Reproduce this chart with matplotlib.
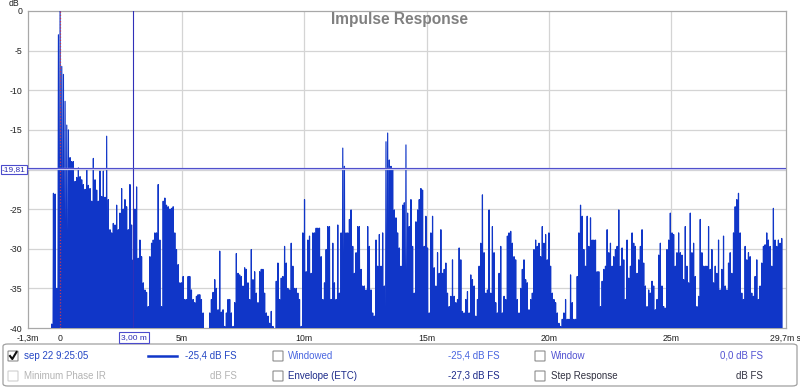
import numpy as np
import matplotlib
matplotlib.use('Agg')
import matplotlib.pyplot as plt
from matplotlib.patches import FancyBboxPatch
from matplotlib.lines import Line2D

plt.rcParams['font.family'] = ['Liberation Sans', 'DejaVu Sans']

# ---------------- data ----------------
start_ms = -0.327      # time of first sample (ms)
step_ms = 0.068        # spacing of level readings (ms)
floor_db = -60.0       # level of zero crossings

level_early = [
    -39.5, -23.0, -23.1, -35.0, -3.0, 0.0, -7.0, -8.0, -11.4, -14.4,
    -15.0, -18.5, -19.0, -19.0, -21.5, -21.0, -19.8, -20.9, -21.3, -21.9,
    -22.5, -20.0, -22.0, -22.4, -24.0, -18.6, -21.3, -22.6, -24.0, -20.2,
    -23.4, -20.2, -23.5, -15.8, -23.8, -27.6, -28.0, -26.8, -27.0, -24.5,
    -27.6, -25.5, -22.4, -25.0, -23.8, -24.7, -27.6, -21.9, -27.0, -31.4,
    -25.0, -22.2, -31.2, -28.9, -31.0, -34.3, -35.2, -35.5, -37.3, -31.0,
    -29.3, -28.9, -28.0, -28.0, -21.9, -28.9, -37.3, -24.0, -23.6, -24.5,
    -24.7, -25.0, -24.9, -24.7, -28.0, -30.1, -32.0, -34.3, -34.3, -33.5,
    -36.4, -36.4, -33.5, -33.5, -35.2, -36.4, -36.8, -36.0, -35.8, -35.8,
    -36.4, -38.1, -42.0, -45.0, -42.0, -38.1, -36.4, -35.5, -33.9, -35.0,
]
level_mid1 = [
    -37.7, -30.3, -38.0, -37.7, -39.8, -38.1, -36.4, -36.4, -38.1, -39.8,
    -36.8, -30.6, -33.1, -33.3, -33.5, -34.7, -32.4, -32.6, -34.3, -36.4,
    -30.1, -33.9, -32.9, -35.6, -36.8, -32.9, -32.6, -32.6, -35.6, -38.1,
    -38.5, -39.4, -37.9, -39.8, -40.5, -34.1, -31.8, -36.4, -33.7, -33.5,
    -29.7, -31.8, -35.0, -35.2, -29.3, -32.2, -35.0, -35.0, -35.6, -36.4,
    -39.8, -28.0, -23.8, -32.9, -28.9, -28.4, -33.1, -28.0, -28.0, -27.4,
    -27.4, -27.4, -31.0, -36.4, -34.3, -30.1, -27.2, -27.2, -36.4, -29.3,
    -34.3, -36.4, -27.0, -35.6, -28.0, -17.3, -19.6, -28.0, -28.0, -26.3,
    -25.1, -29.7, -33.1, -30.5, -27.2, -27.2, -32.6, -34.7, -34.7, -35.2,
    -27.2, -29.7, -35.2, -38.1, -38.5, -28.9, -32.2, -28.2, -32.2, -28.0,
    -34.7, -16.5, -15.4, -18.8, -19.6, -20.0, -25.1, -26.1,
]
level_mid2 = [
    -28.0, -29.9, -32.2, -24.5, -24.2, -16.9, -25.5, -27.2, -23.8, -29.7,
    -35.6, -26.6, -25.1, -23.8, -22.4, -22.6, -29.7, -25.9, -29.9, -38.1,
    -28.0, -25.9, -32.4, -34.7, -30.5, -33.1, -27.6, -33.1, -32.6, -31.8,
    -35.6, -37.3, -36.0, -31.4, -36.0, -36.8, -36.4, -29.9, -31.4, -37.9,
    -38.1, -36.4, -35.4, -38.1, -33.3, -33.9, -34.7, -38.5, -36.4, -32.2,
    -29.3, -23.2, -30.5, -35.6, -35.2, -25.1, -35.6, -27.2, -30.5, -36.8,
    -38.1, -33.1, -29.7, -38.1, -36.0, -36.4, -28.4, -28.0, -27.8, -29.3,
    -31.0, -31.4, -36.4, -38.1, -35.0, -32.6, -31.4, -33.9, -34.3, -37.7,
    -36.4, -35.6, -30.1, -28.9, -29.7, -29.3, -31.0, -27.2, -29.3, -28.2,
    -31.4, -28.0, -32.2, -35.6, -36.4, -36.8, -38.1, -39.4, -39.8, -38.9,
    -38.1, -36.4, -38.9, -38.9, -33.3, -36.8, -38.9, -38.9, -33.5, -28.0,
    -24.5,
]
level_late = [
    -25.9, -30.1, -32.2, -25.9, -29.7, -26.1, -28.9, -28.9, -28.9, -32.9,
    -32.9, -37.3, -34.1, -32.6, -32.2, -27.6, -30.5, -29.3, -32.2, -31.0,
    -30.1, -29.7, -25.1, -32.2, -29.9, -31.4, -36.4, -28.9, -33.7, -32.2,
    -28.0, -29.3, -29.7, -33.1, -31.4, -29.7, -27.6, -31.8, -34.7, -37.3,
    -35.2, -35.6, -34.1, -34.7, -37.7, -36.4, -30.8, -29.3, -34.7, -37.3,
    -37.5, -30.1, -28.9, -25.5, -28.0, -28.2, -32.2, -30.5, -28.0, -30.5,
    -30.8, -33.9, -27.2, -32.2, -34.3, -25.5, -30.5, -29.3, -33.5, -37.3,
    -36.0, -26.3, -30.5, -32.2, -32.2, -32.2, -27.2, -32.6, -30.1, -34.3,
    -32.2, -33.1, -28.9, -35.2, -32.6, -28.4, -34.7, -35.2, -31.8, -30.5,
    -33.1, -28.0, -24.7, -23.8, -23.0, -28.0, -35.6, -36.4, -29.7, -31.4,
    -30.5, -31.0, -35.6, -36.0, -33.5, -31.4, -36.4, -34.7, -31.8, -29.7,
    -29.5, -28.0, -28.9, -29.7, -32.2, -24.9, -28.9, -29.7, -28.9, -29.3,
    -28.7,
]

x_ticks = [-1.3, 0, 5, 10, 15, 20, 25, 29.7]
x_tick_labels = ['-1,3m', '0', '5m', '10m', '15m', '20m', '25m', '29,7m s']
y_ticks = [0, -5, -10, -15, -25, -30, -35, -40]
y_tick_labels = ['0', '-5', '-10', '-15', '-25', '-30', '-35', '-40']
y_grid = [-5, -10, -15, -20, -25, -30, -35]
x_grid = [5, 10, 15, 20, 25]
x_range = (-1.3, 29.7)
y_range = (-40, 0)
cursor_ms = 3.00
cursor_db = -19.81

legend_rows = [
    [('sep 22 9:25:05', '#2446c4'), ('-25,4 dB FS', '#2446c4'),
     ('Windowed', '#4a66e0'), ('-25,4 dB FS', '#4a66e0'),
     ('Window', '#5252d2'), ('0,0 dB FS', '#5252d2')],
    [('Minimum Phase IR', '#b4b4b4'), ('dB FS', '#b4b4b4'),
     ('Envelope (ETC)', '#1c2a8a'), ('-27,3 dB FS', '#1c2a8a'),
     ('Step Response', '#303040'), ('dB FS', '#303040')],
]

# ---------------- figure ----------------
W, H = 800, 389
fig = plt.figure(figsize=(W / 100, H / 100), dpi=100, facecolor='white')


def fx(x):
    return x / W


def fy(y):
    return 1 - y / H


ax_l, ax_r, ax_t, ax_b = 28, 786, 11, 328
ax = fig.add_axes([fx(ax_l), fy(ax_b), (ax_r - ax_l) / W, (ax_b - ax_t) / H])
ax.set_facecolor('white')

levels = np.array(level_early + level_mid1 + level_mid2 + level_late)
t_peak = start_ms + np.arange(len(levels)) * step_ms
n = len(levels)
t = np.empty(2 * n + 1)
v = np.empty(2 * n + 1)
t[0] = t_peak[0] - step_ms / 2
v[0] = floor_db
t[1::2] = t_peak
v[1::2] = levels
t[2:-1:2] = (t_peak[:-1] + t_peak[1:]) / 2
v[2:-1:2] = floor_db
t[-1] = t_peak[-1] + step_ms / 2
v[-1] = floor_db

ax.plot(t, v, color='#1036c8', lw=0.85, zorder=3)

ax.set_xlim(*x_range)
ax.set_ylim(*y_range)

# grid
for gx in x_grid:
    ax.axvline(gx, color='#d4d4d4', lw=0.9, zorder=1)
for gy in y_grid:
    ax.axhline(gy, color='#d4d4d4', lw=0.9, zorder=1)

# IR start marker
ax.axvline(0, color='#c03a5a', lw=0.9, ls=(0, (1, 1.5)), zorder=4)

# cursors
ax.axvline(cursor_ms, color='#3030b8', lw=0.8, zorder=5)
ax.axhline(cursor_db - 0.12, color='#d2d2f4', lw=1.6, zorder=4)
ax.axhline(cursor_db, color='#5050cc', lw=0.8, zorder=5)

ax.set_xticks(x_ticks)
ax.set_xticklabels(x_tick_labels)
ax.set_yticks(y_ticks)
ax.set_yticklabels(y_tick_labels)
ax.tick_params(length=0, labelsize=6.3, colors='#202020', pad=4)
ax.tick_params(axis='x', pad=4)
for s in ax.spines.values():
    s.set_color('#a8a8a8')
    s.set_linewidth(0.9)

# title
fig.text(fx(399.5), fy(19.5), 'Impulse Response', ha='center', va='center',
         fontsize=11.2, fontweight='bold', color='#808080')
# axis unit
fig.text(fx(9), fy(4), 'dB', ha='left', va='center', fontsize=6.3, color='#202020')

# cursor value boxes
fig.text(fx(14), fy(169.5), '-19,81', ha='center', va='center', fontsize=6.0,
         color='#2a2ab4', zorder=10,
         bbox=dict(boxstyle='square,pad=0.12', fc='white', ec='#4b4bcc', lw=0.8))
fig.text(fx(134), fy(337.5), '3,00 m', ha='center', va='center', fontsize=6.0,
         color='#2a2ab4', zorder=10,
         bbox=dict(boxstyle='square,pad=0.2', fc='white', ec='#4b4bcc', lw=0.8))

# legend panel
panel = FancyBboxPatch((fx(3), fy(386)), fx(794), (386 - 344) / H,
                       boxstyle='round,pad=0,rounding_size=0.006',
                       transform=fig.transFigure, fc='white', ec='#a0a0a0', lw=0.9)
fig.patches.append(panel)


def checkbox(x, y, checked, enabled=True):
    ec = '#8c8c8c' if enabled else '#cfcfcf'
    r = FancyBboxPatch((fx(x), fy(y + 5)), 10 / W, 10 / H,
                       boxstyle='round,pad=0,rounding_size=0.001',
                       transform=fig.transFigure, fc='white', ec=ec, lw=0.8)
    fig.patches.append(r)
    if checked:
        fig.lines.append(Line2D([fx(x + 2), fx(x + 4.3), fx(x + 8.5)],
                                [fy(y), fy(y + 3), fy(y - 4)],
                                transform=fig.transFigure, color='#111111', lw=1.5))


row_y = [356, 376]
col_check = [8, 273, 535]
col_text = [24, 288, 551]
col_val = [237, 500, 763]
for r, row in enumerate(legend_rows):
    y = row_y[r]
    for c in range(3):
        name = row[2 * c]
        val = row[2 * c + 1]
        enabled = not (r == 1 and c == 0)
        checked = (r == 0 and c == 0)
        checkbox(col_check[c], y, checked, enabled)
        fig.text(fx(col_text[c]), fy(y), name[0], ha='left', va='center',
                 fontsize=7, color=name[1])
        fig.text(fx(col_val[c]), fy(y), val[0], ha='right', va='center',
                 fontsize=7, color=val[1])
# data series line sample
fig.lines.append(Line2D([fx(148), fx(177)], [fy(356), fy(356)],
                        transform=fig.transFigure, color='#1036c8', lw=1.8))

fig.savefig('out.png', dpi=100, facecolor='white')
